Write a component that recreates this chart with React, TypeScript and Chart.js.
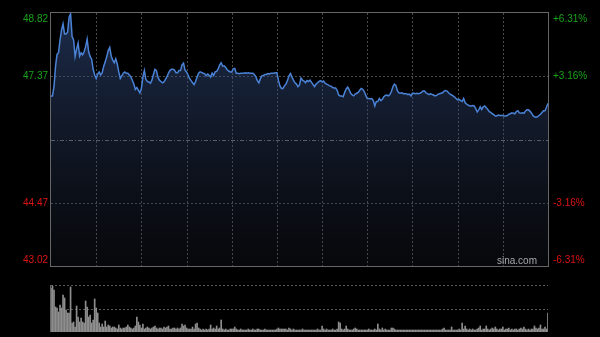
import React, { useEffect, useRef } from 'react';
import { Chart, registerables } from 'chart.js';

Chart.register(...registerables);

// ---- data ----
const PRICE_MAX = 48.82;
const PRICE_MIN = 43.02;
const PREV_CLOSE = 45.92;
const PRICE_TICKS = [48.82, 47.37, 45.92, 44.47, 43.02];
const PRICE_TICK_LABELS = ['48.82', '47.37', '', '44.47', '43.02'];
const PCT_TICK_LABELS = ['+6.31%', '+3.16%', '', '-3.16%', '-6.31%'];
const GRID_MINUTES = [30, 60, 90, 120, 150, 180, 210, 240, 270, 300];
const WATERMARK = 'sina.com';

const prices = [
  46.92, 46.92, 47.13, 47.59, 47.87, 47.91, 48.20, 48.43, 48.57, 48.34,
  48.34, 48.38, 48.72, 48.80, 48.28, 48.20, 47.82, 47.99, 48.13, 47.83,
  47.91, 47.86, 47.93, 48.05, 48.22, 47.93, 47.82, 47.76, 47.53, 47.40,
  47.32, 47.42, 47.47, 47.40, 47.45, 47.60, 47.70, 47.82, 47.96, 48.03,
  47.83, 47.74, 47.68, 47.77, 47.65, 47.47, 47.32, 47.38, 47.44, 47.47,
  47.44, 47.44, 47.40, 47.36, 47.28, 47.19,
  47.07, 47.11, 47.05, 46.99, 47.09, 47.35, 47.50, 47.30, 47.25, 47.24,
  47.21, 47.28, 47.41, 47.53, 47.50, 47.35, 47.28, 47.25, 47.22, 47.24,
  47.30, 47.36, 47.44, 47.50, 47.53, 47.53, 47.51, 47.45, 47.45, 47.50,
  47.50, 47.63, 47.67, 47.51, 47.47, 47.40, 47.32, 47.27, 47.22, 47.18,
  47.25, 47.35, 47.44, 47.47, 47.46, 47.44, 47.43, 47.38, 47.42, 47.39,
  47.35, 47.44, 47.39, 47.47, 47.48,
  47.54, 47.63, 47.68, 47.60, 47.61, 47.57, 47.52, 47.49, 47.47, 47.47,
  47.54, 47.55, 47.44, 47.44, 47.43, 47.44, 47.44, 47.44, 47.45, 47.44,
  47.45, 47.44, 47.44, 47.44, 47.41, 47.36, 47.27, 47.22, 47.31, 47.38,
  47.39, 47.41, 47.41, 47.43, 47.42, 47.44, 47.44, 47.44, 47.45, 47.45,
  47.28, 47.15, 47.09, 47.09, 47.15, 47.19, 47.27, 47.38, 47.43, 47.35,
  47.28, 47.22, 47.19, 47.13, 47.17,
  47.33, 47.28, 47.26, 47.22, 47.27, 47.25, 47.28, 47.23, 47.18, 47.13,
  47.19, 47.22, 47.25, 47.27, 47.24, 47.26, 47.21, 47.19, 47.17, 47.15,
  47.14, 47.11, 47.10, 47.10, 47.05, 46.94, 46.92, 46.92, 46.90, 47.00,
  47.08, 47.12, 47.06, 46.98, 46.94, 46.92, 46.96, 46.98, 47.00, 47.05,
  47.09, 47.07, 47.02, 46.93, 46.86, 46.86, 46.85, 46.86, 46.81, 46.69,
  46.79, 46.79, 46.86, 46.81, 46.84, 46.90,
  46.93, 46.94, 46.92, 46.95, 47.02, 47.13, 47.19, 47.16, 47.04, 46.99,
  46.98, 46.99, 46.97, 46.97, 46.97, 46.95, 46.96, 46.92, 46.98, 46.98,
  46.97, 46.98, 46.97, 46.98, 47.00, 47.03, 47.03, 46.99, 46.97, 46.95,
  46.97, 46.95, 46.94, 46.92, 46.93, 46.96, 46.97, 46.98, 46.99, 47.03,
  47.04, 47.03, 46.99, 46.96, 46.94, 46.92, 46.89, 46.86, 46.83, 46.84,
  46.81, 46.79, 46.86, 46.76, 46.73,
  46.71, 46.69, 46.69, 46.70, 46.69, 46.63, 46.55, 46.60, 46.67, 46.61,
  46.67, 46.69, 46.65, 46.61, 46.56, 46.54, 46.51, 46.49, 46.46, 46.46,
  46.48, 46.47, 46.47, 46.47, 46.46, 46.46, 46.47, 46.50, 46.51, 46.53,
  46.52, 46.51, 46.56, 46.58, 46.53, 46.52, 46.53, 46.52, 46.57, 46.60,
  46.60, 46.57, 46.53, 46.47, 46.44, 46.43, 46.44, 46.47, 46.50, 46.54,
  46.58, 46.58, 46.66, 46.75,
];

const VOL_MAX = 47;
const volumes = [
  44, 46, 42, 25, 24, 20, 27, 24, 37, 34,
  22, 19, 19, 45, 9, 10, 5, 26, 15, 10,
  14, 10, 9, 31, 25, 15, 17, 9, 12, 33,
  24, 19, 9, 5, 8, 5, 11, 5, 7, 6,
  4, 5, 5, 4, 3, 7, 4, 3, 4, 4,
  5, 7, 5, 4, 3, 4, 6, 15, 10, 7,
  4, 8, 3, 4, 5, 4, 3, 4, 5, 6,
  4, 3, 4, 4, 3, 5, 4, 5, 6, 3,
  3, 4, 4, 3, 4, 3, 4, 8, 6, 7,
  4, 3, 3, 3, 5, 3, 8, 9, 4, 3,
  2, 3, 2, 3, 2, 3, 7, 3, 4, 3,
  6, 3, 4, 12, 3, 2, 3, 2, 2, 3,
  3, 3, 5, 3, 2, 2, 3, 2, 2, 2,
  2, 3, 2, 2, 3, 2, 2, 3, 3, 2,
  2, 2, 3, 2, 2, 2, 2, 2, 2, 2,
  3, 4, 3, 3, 3, 3, 3, 2, 4, 3,
  2, 3, 2, 2, 2, 2, 2, 3, 2, 2,
  2, 2, 2, 2, 2, 2, 2, 3, 2, 2,
  6, 3, 2, 3, 2, 2, 2, 3, 2, 2,
  3, 10, 9, 3, 2, 3, 6, 3, 2, 2,
  2, 3, 4, 3, 2, 2, 2, 2, 2, 2,
  2, 3, 2, 2, 2, 3, 2, 8, 3, 2,
  4, 2, 3, 2, 2, 2, 4, 4, 3, 2,
  2, 2, 2, 2, 2, 2, 2, 2, 2, 2,
  2, 2, 2, 2, 2, 2, 2, 2, 2, 2,
  2, 2, 2, 2, 2, 2, 2, 2, 2, 2,
  3, 4, 2, 2, 2, 2, 5, 2, 2, 2,
  2, 3, 2, 9, 3, 6, 3, 2, 3, 2,
  3, 2, 2, 3, 4, 6, 2, 3, 3, 6,
  3, 2, 3, 4, 3, 5, 3, 2, 3, 3,
  5, 2, 3, 3, 4, 2, 3, 2, 3, 3,
  2, 3, 4, 3, 5, 3, 2, 3, 2, 3,
  3, 6, 4, 3, 4, 7, 3, 3, 5, 3,
  19,
];

// minute labels of an HK trading day: 09:30-12:00, 13:01-16:00
function timeLabels(): string[] {
  const out: string[] = [];
  const fmt = (m: number) => `${String(Math.floor(m / 60)).padStart(2, '0')}:${String(m % 60).padStart(2, '0')}`;
  for (let m = 9 * 60 + 30; m <= 12 * 60; m++) out.push(fmt(m));
  for (let m = 13 * 60 + 1; m <= 16 * 60; m++) out.push(fmt(m));
  return out;
}

const FONT = '10px Arial, "Liberation Sans", sans-serif';
const UP = '#1aa31a';
const DOWN = '#dd1414';
const BORDER = '#666666';
const GRID = '#4a4a4a';

const crisp = (v: number) => Math.round(v) + 0.5;

const priceDecor = {
  id: 'priceDecor',
  beforeDatasetsDraw(chart: any) {
    const { ctx, chartArea: a, scales } = chart;
    const xs = scales.x;
    const ys = scales.y;
    ctx.save();
    ctx.lineWidth = 1;
    ctx.strokeStyle = GRID;
    ctx.setLineDash([2, 2]);
    GRID_MINUTES.forEach((m) => {
      const x = crisp(xs.getPixelForValue(m));
      ctx.beginPath();
      ctx.moveTo(x, a.top);
      ctx.lineTo(x, a.bottom);
      ctx.stroke();
    });
    [PRICE_TICKS[1], PRICE_TICKS[3]].forEach((p) => {
      const y = crisp(ys.getPixelForValue(p));
      ctx.beginPath();
      ctx.moveTo(a.left, y);
      ctx.lineTo(a.right, y);
      ctx.stroke();
    });
    ctx.strokeStyle = '#6a6a6a';
    ctx.setLineDash([4, 2, 1, 2]);
    const yc = crisp(ys.getPixelForValue(PREV_CLOSE));
    ctx.beginPath();
    ctx.moveTo(a.left, yc);
    ctx.lineTo(a.right, yc);
    ctx.stroke();
    ctx.restore();
  },
  afterDraw(chart: any) {
    const { ctx, chartArea: a, scales } = chart;
    const ys = scales.y;
    ctx.save();
    ctx.lineWidth = 1;
    ctx.strokeStyle = BORDER;
    ctx.setLineDash([]);
    ctx.strokeRect(crisp(a.left) - 1, crisp(a.top) - 1, Math.round(a.right - a.left) + 1, Math.round(a.bottom - a.top) + 1);
    ctx.font = FONT;
    ctx.textBaseline = 'middle';
    PRICE_TICKS.forEach((p, i) => {
      let y = ys.getPixelForValue(p);
      y = Math.min(Math.max(y, a.top + 6), a.bottom - 6);
      const color = p > PREV_CLOSE ? UP : DOWN;
      ctx.fillStyle = color;
      if (PRICE_TICK_LABELS[i]) {
        ctx.textAlign = 'right';
        ctx.fillText(PRICE_TICK_LABELS[i], a.left - 3, y);
      }
      if (PCT_TICK_LABELS[i]) {
        ctx.textAlign = 'left';
        ctx.fillText(PCT_TICK_LABELS[i], a.right + 5, y);
      }
    });
    ctx.fillStyle = '#a8a8a8';
    ctx.textAlign = 'right';
    ctx.textBaseline = 'alphabetic';
    ctx.fillText(WATERMARK, a.right - 11, a.bottom - 2);
    ctx.restore();
  },
};

const volDecor = {
  id: 'volDecor',
  beforeDatasetsDraw(chart: any) {
    const { ctx, chartArea: a, scales } = chart;
    const ys = scales.y;
    ctx.save();
    ctx.lineWidth = 1;
    ctx.strokeStyle = '#5a5a5a';
    ctx.setLineDash([2, 2]);
    [VOL_MAX, VOL_MAX / 2].forEach((v) => {
      const y = crisp(ys.getPixelForValue(v));
      ctx.beginPath();
      ctx.moveTo(a.left, y);
      ctx.lineTo(a.right, y);
      ctx.stroke();
    });
    ctx.setLineDash([]);
    ctx.strokeStyle = BORDER;
    const x = crisp(a.left) - 1;
    ctx.beginPath();
    ctx.moveTo(x, a.top);
    ctx.lineTo(x, a.bottom);
    ctx.stroke();
    ctx.restore();
  },
};

export default function App() {
  const priceRef = useRef<HTMLCanvasElement>(null);
  const volRef = useRef<HTMLCanvasElement>(null);

  useEffect(() => {
    const labels = timeLabels();
    const priceChart = new Chart(priceRef.current as HTMLCanvasElement, {
      type: 'line',
      data: {
        labels,
        datasets: [
          {
            data: prices,
            borderColor: '#4a82d6',
            borderWidth: 1.5,
            pointRadius: 0,
            tension: 0,
            fill: 'start',
            backgroundColor: (c: any) => {
              const a = c.chart.chartArea;
              if (!a) return 'rgba(40,60,100,0.3)';
              const g = c.chart.ctx.createLinearGradient(0, a.top, 0, a.bottom);
              g.addColorStop(0, 'rgba(55,85,145,0.52)');
              g.addColorStop(1, 'rgba(40,50,72,0.16)');
              return g;
            },
          },
        ],
      },
      options: {
        responsive: false,
        animation: false,
        devicePixelRatio: 1,
        layout: { padding: { left: 51, right: 52, top: 13, bottom: 4 } },
        plugins: { legend: { display: false }, tooltip: { enabled: false } },
        scales: {
          x: { display: false, offset: false },
          y: { display: false, min: PRICE_MIN, max: PRICE_MAX },
        },
      },
      plugins: [priceDecor],
    } as any);

    const volChart = new Chart(volRef.current as HTMLCanvasElement, {
      type: 'bar',
      data: {
        labels,
        datasets: [
          {
            data: volumes,
            backgroundColor: '#8e8e8e',
            barThickness: 1,
            categoryPercentage: 1,
            barPercentage: 1,
          },
        ],
      },
      options: {
        responsive: false,
        animation: false,
        devicePixelRatio: 1,
        layout: { padding: { left: 51, right: 52, top: 15, bottom: 5 } },
        plugins: { legend: { display: false }, tooltip: { enabled: false } },
        scales: {
          x: { display: false, offset: false },
          y: { display: false, min: 0, max: VOL_MAX },
        },
      },
      plugins: [volDecor],
    } as any);

    return () => {
      priceChart.destroy();
      volChart.destroy();
    };
  }, []);

  return (
    <div style={{ position: 'fixed', left: 0, top: 0, width: 600, height: 337, background: '#000', overflow: 'hidden' }}>
      <canvas ref={priceRef} width={600} height={270} style={{ position: 'absolute', left: 0, top: 0, width: 600, height: 270 }} />
      <canvas ref={volRef} width={600} height={67} style={{ position: 'absolute', left: 0, top: 270, width: 600, height: 67 }} />
    </div>
  );
}
